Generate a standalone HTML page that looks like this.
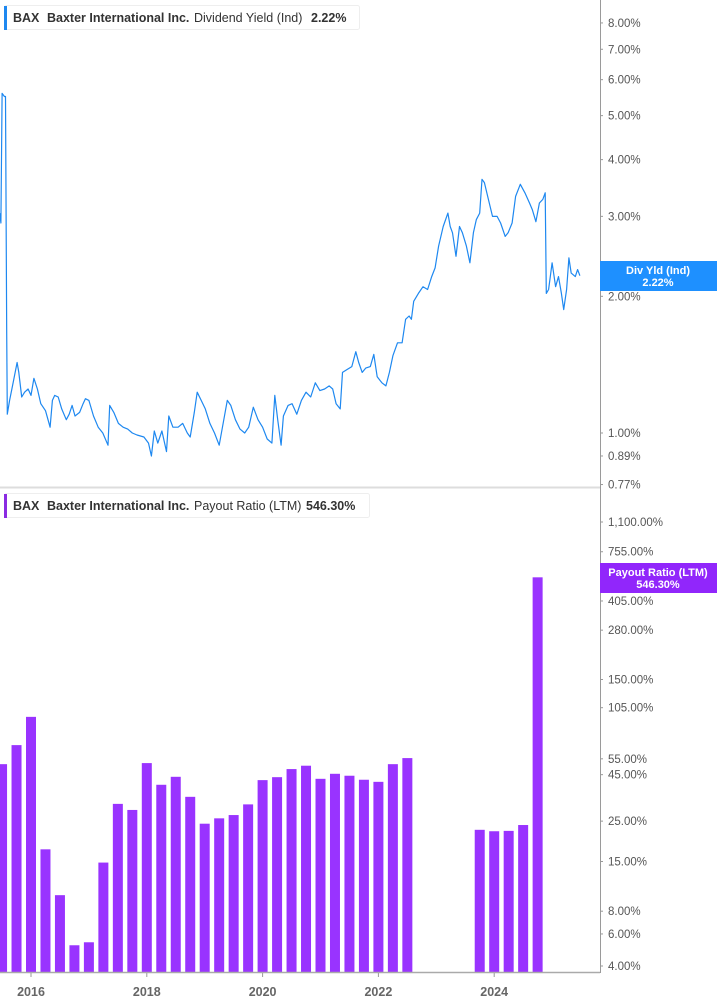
<!DOCTYPE html>
<html><head><meta charset="utf-8">
<style>
body{margin:0;background:#fff;font-family:"Liberation Sans",sans-serif;}
svg{display:block}
</style></head>
<body>
<svg id="chart" width="717" height="1005" viewBox="0 0 717 1005" xmlns="http://www.w3.org/2000/svg">
<rect x="0" y="0" width="717" height="1005" fill="#fff"/>
<g id="top"></g>
<g id="bot"></g>
<line x1="600.5" y1="0" x2="600.5" y2="973" stroke="#9a9a9a" stroke-width="1"/>
<line x1="0" y1="487.5" x2="600" y2="487.5" stroke="#ddd" stroke-width="2"/>
<line x1="0" y1="972.5" x2="600" y2="972.5" stroke="#aaa" stroke-width="1.5"/>
<g>
<rect x="4.5" y="5.5" width="355" height="24" rx="2" fill="#fff" stroke="#eee"/>
<rect x="4" y="6" width="3" height="24" fill="#1e88f0"/>
<text x="13" y="22" font-size="12.5" font-weight="bold" fill="#333">BAX</text>
<text x="47" y="22" font-size="12.5" font-weight="bold" fill="#333">Baxter International Inc.</text>
<text x="194" y="22" font-size="12.5" fill="#333">Dividend Yield (Ind)</text>
<text x="311" y="22" font-size="12.5" font-weight="bold" fill="#333">2.22%</text>
</g>
<g>
<rect x="4.5" y="493.5" width="365" height="24" rx="2" fill="#fff" stroke="#eee"/>
<rect x="4" y="494" width="3" height="24" fill="#8a2be2"/>
<text x="13" y="510" font-size="12.5" font-weight="bold" fill="#333">BAX</text>
<text x="47" y="510" font-size="12.5" font-weight="bold" fill="#333">Baxter International Inc.</text>
<text x="194" y="510" font-size="12.5" fill="#333">Payout Ratio (LTM)</text>
<text x="306" y="510" font-size="12.5" font-weight="bold" fill="#333">546.30%</text>
</g>
<g>
<rect x="600" y="261" width="117" height="30" fill="#1e90ff"/>
<text x="658" y="274" font-size="11" font-weight="bold" fill="#fff" text-anchor="middle">Div Yld (Ind)</text>
<text x="658" y="286" font-size="11" font-weight="bold" fill="#fff" text-anchor="middle">2.22%</text>
</g>
<g>
<rect x="600" y="563" width="117" height="30" fill="#9126fb"/>
<text x="658" y="576" font-size="11" font-weight="bold" fill="#fff" text-anchor="middle">Payout Ratio (LTM)</text>
<text x="658" y="588" font-size="11" font-weight="bold" fill="#fff" text-anchor="middle">546.30%</text>
</g>
</svg>
<script>
const yieldDates=[2015.46,2015.48,2015.50,2015.54,2015.56,2015.58,2015.59,2015.63,2015.68,2015.76,2015.79,2015.84,2015.89,2015.95,2016.00,2016.05,2016.11,2016.17,2016.25,2016.33,2016.37,2016.41,2016.47,2016.53,2016.61,2016.66,2016.71,2016.76,2016.84,2016.90,2016.94,2017.00,2017.08,2017.16,2017.24,2017.33,2017.36,2017.43,2017.51,2017.59,2017.67,2017.75,2017.83,2017.95,2018.03,2018.08,2018.13,2018.19,2018.26,2018.34,2018.38,2018.45,2018.54,2018.62,2018.70,2018.75,2018.82,2018.87,2018.94,2019.01,2019.09,2019.17,2019.25,2019.33,2019.39,2019.45,2019.53,2019.61,2019.69,2019.76,2019.84,2019.92,2020.00,2020.08,2020.16,2020.21,2020.26,2020.32,2020.36,2020.44,2020.51,2020.59,2020.67,2020.75,2020.83,2020.91,2020.99,2021.07,2021.15,2021.21,2021.27,2021.34,2021.38,2021.46,2021.54,2021.61,2021.66,2021.72,2021.78,2021.86,2021.92,2021.98,2022.06,2022.13,2022.19,2022.25,2022.33,2022.41,2022.47,2022.53,2022.57,2022.61,2022.69,2022.77,2022.85,2022.92,2022.98,2023.04,2023.12,2023.20,2023.24,2023.28,2023.34,2023.40,2023.45,2023.52,2023.58,2023.64,2023.69,2023.75,2023.79,2023.83,2023.90,2023.97,2024.05,2024.11,2024.19,2024.24,2024.31,2024.37,2024.45,2024.53,2024.61,2024.66,2024.72,2024.78,2024.84,2024.88,2024.90,2024.94,2025.00,2025.06,2025.11,2025.16,2025.20,2025.25,2025.29,2025.33,2025.40,2025.44,2025.48];
const yieldValues=[3.05,2.90,5.60,5.51,5.51,1.66,1.10,1.18,1.27,1.43,1.36,1.20,1.23,1.25,1.21,1.32,1.25,1.16,1.12,1.03,1.18,1.21,1.20,1.13,1.07,1.10,1.15,1.09,1.11,1.16,1.19,1.18,1.09,1.03,1.00,0.94,1.15,1.11,1.05,1.03,1.02,1.00,0.99,0.98,0.95,0.89,1.01,0.95,1.01,0.91,1.09,1.03,1.03,1.05,1.00,0.98,1.11,1.23,1.18,1.13,1.05,1.00,0.94,1.07,1.18,1.15,1.07,1.02,1.00,1.03,1.14,1.07,1.03,0.97,0.95,1.21,1.07,0.94,1.09,1.15,1.16,1.10,1.18,1.23,1.20,1.29,1.24,1.25,1.27,1.25,1.16,1.13,1.36,1.38,1.40,1.51,1.43,1.36,1.39,1.40,1.49,1.33,1.29,1.27,1.36,1.48,1.58,1.58,1.78,1.81,1.78,1.95,2.03,2.10,2.07,2.21,2.31,2.58,2.85,3.05,2.85,2.76,2.45,2.85,2.76,2.58,2.37,2.76,2.95,3.05,3.62,3.56,3.27,3.00,3.00,2.90,2.71,2.76,2.90,3.32,3.53,3.38,3.21,3.10,2.92,3.21,3.27,3.38,2.03,2.07,2.37,2.10,2.21,2.03,1.87,2.07,2.43,2.25,2.21,2.29,2.22];
const yieldTicks=[8,7,6,5,4,3,2,1,0.89,0.77];
const yieldTickLabels=["8.00%","7.00%","6.00%","5.00%","4.00%","3.00%","2.00%","1.00%","0.89%","0.77%"];
const payoutDates=[2015.5,2015.75,2016.0,2016.25,2016.5,2016.75,2017.0,2017.25,2017.5,2017.75,2018.0,2018.25,2018.5,2018.75,2019.0,2019.25,2019.5,2019.75,2020.0,2020.25,2020.5,2020.75,2021.0,2021.25,2021.5,2021.75,2022.0,2022.25,2022.5,2023.75,2024.0,2024.25,2024.5,2024.75];
const payoutValues=[51.4,65.4,93.5,17.5,9.8,5.2,5.4,14.8,31.1,28.8,52.1,39.6,43.8,34.0,24.2,25.9,27.0,30.9,42.0,43.6,48.3,50.4,42.7,45.5,44.4,42.2,41.1,51.4,55.5,22.4,22.0,22.1,23.8,546.3];
const payoutTicks=[1100,755,405,280,150,105,55,45,25,15,8,6,4];
const payoutTickLabels=["1,100.00%","755.00%","405.00%","280.00%","150.00%","105.00%","55.00%","45.00%","25.00%","15.00%","8.00%","6.00%","4.00%"];
const yearTicks=[2016,2018,2020,2022,2024];

const NS="http://www.w3.org/2000/svg";
const svg=document.getElementById('chart');
const topG=document.getElementById('top'), botG=document.getElementById('bot');
const xScale=y=>31+(y-2016)*57.9;
const yTop=v=>433-197.2*Math.log(v);
const yBot=v=>966-79.05*Math.log(v/4);
function mk(tag,attrs,parent){const e=document.createElementNS(NS,tag);for(const k in attrs)e.setAttribute(k,attrs[k]);parent.appendChild(e);return e;}

// yield line
let d='';
for(let i=0;i<yieldDates.length;i++){d+=(i?'L':'M')+xScale(yieldDates[i]).toFixed(1)+','+yTop(yieldValues[i]).toFixed(1);}
const line=mk('path',{d:d,fill:'none',stroke:'#1e88f0','stroke-width':1.2,'stroke-linejoin':'round'},topG);



yieldTicks.forEach((t,i)=>{
  const y=yTop(t);
  const tk=mk('line',{x1:600,x2:603,y1:y,y2:y,stroke:'#999'},topG);
  
  
  const tx=mk('text',{x:608,y:y+4,'font-size':11.5,fill:'#555'},topG);
  tx.textContent=yieldTickLabels[i];
  
  
});

payoutDates.forEach((dt,i)=>{
  const x=xScale(dt), y=yBot(payoutValues[i]);
  const b=mk('rect',{x:x-5,y:y,width:10,height:972-y,fill:'#9933ff'},botG);
  
  
});
payoutTicks.forEach((t,i)=>{
  const y=yBot(t);
  const tk=mk('line',{x1:600,x2:603,y1:y,y2:y,stroke:'#999'},botG);
  
  
  const tx=mk('text',{x:608,y:y+4,'font-size':11.5,fill:'#555'},botG);
  tx.textContent=payoutTickLabels[i];
  
  
});
yearTicks.forEach(yr=>{
  const x=xScale(yr);
  const tk=mk('line',{x1:x,x2:x,y1:972,y2:977,stroke:'#999'},botG);
  
  
  const tx=mk('text',{x:x,y:996,'font-size':12.5,'font-weight':'bold',fill:'#666','text-anchor':'middle'},botG);
  tx.textContent=yr;
  
  
});
</script>
</body></html>
